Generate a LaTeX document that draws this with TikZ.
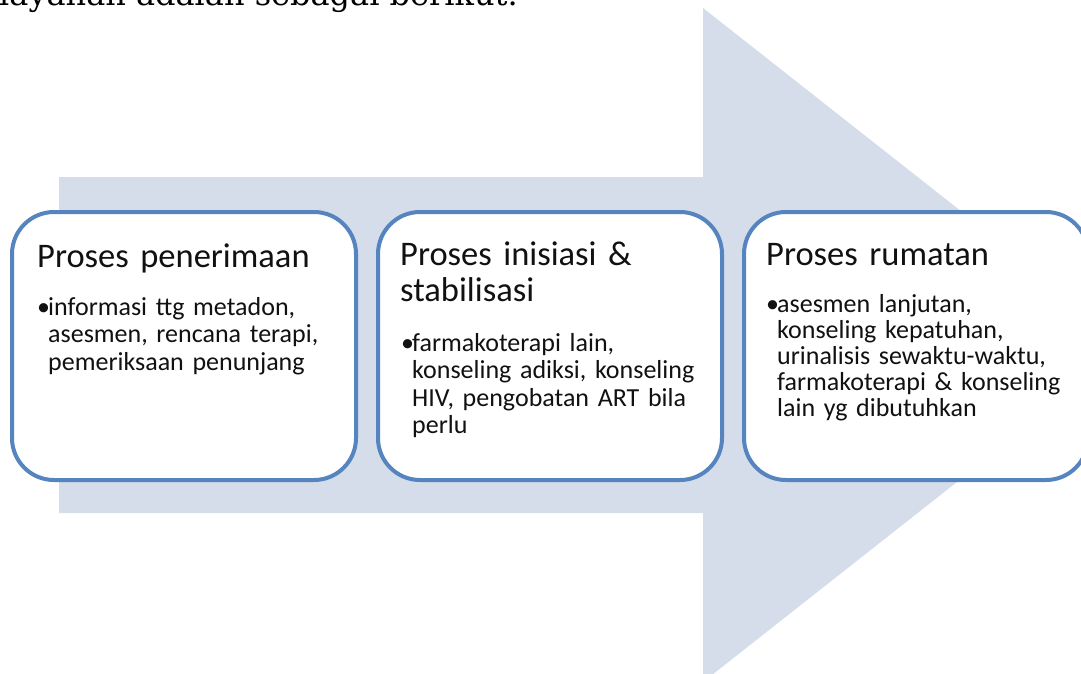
\documentclass[tikz,border=0pt]{standalone}
\usepackage{fontspec}
\setmainfont{Carlito}
\newfontfamily\introfont{DejaVu Serif}
\usetikzlibrary{positioning}

\definecolor{arrowfill}{HTML}{D5DCEA}
\definecolor{boxline}{HTML}{5584BF}
\definecolor{textgray}{HTML}{111111}

\newcommand{\stagebullet}{\makebox[11pt][l]{\textbullet}}
\newcommand{\stageindent}{\hspace*{11pt}}

\begin{document}
\begin{tikzpicture}[x=1pt, y=-1pt, node distance=18pt,
  stagebox/.style={draw=boxline, line width=4pt, fill=white, rounded corners=42pt,
    minimum width=344pt, minimum height=268pt, inner sep=0pt},
  stagetitle/.style={anchor=base west, align=left, inner sep=0pt, text=textgray,
    text width=320pt, font=\fontsize{34.5}{36}\selectfont},
  stagetext/.style={anchor=base west, align=left, inner sep=0pt, text=textgray,
    text width=320pt, font=\fontsize{26}{27.5}\selectfont}]

  % Frame of the picture
  \useasboundingbox (0,0) rectangle (1081,673);
  \clip (0,0) rectangle (1081,673);

  % Cut-off line of text above the figure
  \node[anchor=base west, inner sep=0pt, font=\introfont\fontsize{32}{34}\selectfont]
    (intro) at (-1,5) {layanan adalah sebagai berikut.};

  % Big arrow behind the three stages
  \fill[arrowfill] (59,177) -- (703,177) -- (703,8) -- (1131,345)
    -- (703,682) -- (703,513) -- (59,513) -- cycle;

  % The three stage boxes
  \node[stagebox] (box1) at (184,346) {};
  \node[stagebox, right=of box1] (box2) {};
  \node[stagebox, right=of box2] (box3) {};

  % Titles
  \node[stagetitle] (title1) at ([shift={(27,57)}]box1.north west) {Proses penerimaan};
  \node[stagetitle] (title2) at ([shift={(24,55)}]box2.north west)
    {Proses inisiasi \&\\stabilisasi};
  \node[stagetitle] (title3) at ([shift={(24,55)}]box3.north west) {Proses rumatan};

  % Bullet texts
  \node[stagetext] (text1) at ([shift={(27,105)}]box1.north west)
    {\stagebullet informasi ttg metadon,\\
     \stageindent asesmen, rencana terapi,\\
     \stageindent pemeriksaan penunjang};
  \node[stagetext] (text2) at ([shift={(25,141)}]box2.north west)
    {\stagebullet farmakoterapi lain,\\
     \stageindent konseling adiksi, konseling\\
     \stageindent HIV, pengobatan ART bila\\
     \stageindent perlu};
  \node[stagetext, font=\fontsize{26}{26.2}\selectfont] (text3)
    at ([shift={(24,102)}]box3.north west)
    {\stagebullet asesmen lanjutan,\\
     \stageindent konseling kepatuhan,\\
     \stageindent urinalisis sewaktu-waktu,\\
     \stageindent farmakoterapi \& konseling\\
     \stageindent lain yg dibutuhkan};

\end{tikzpicture}
\end{document}
